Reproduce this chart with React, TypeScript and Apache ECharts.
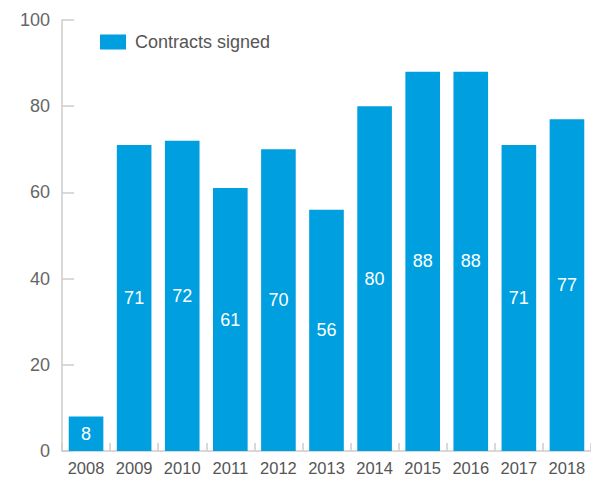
import React, { useEffect, useRef } from "react";
import * as echarts from "echarts";

const years = ["2008", "2009", "2010", "2011", "2012", "2013", "2014", "2015", "2016", "2017", "2018"];
const contractsSigned = [8, 71, 72, 61, 70, 56, 80, 88, 88, 71, 77];
const seriesName = "Contracts signed";

export default function App() {
  const ref = useRef<HTMLDivElement>(null);
  useEffect(() => {
    if (!ref.current) return;
    const chart = echarts.init(ref.current, null, { renderer: "svg" });
    chart.setOption({
      animation: false,
      textStyle: { fontFamily: "Liberation Sans, Arial, sans-serif" },
      legend: {
        left: 95,
        top: 28,
        itemWidth: 26,
        itemHeight: 15,
        itemGap: 10,
        icon: "rect",
        textStyle: { fontSize: 18, color: "#555", padding: [0, 0, 0, 4], fontFamily: "Liberation Sans, Arial, sans-serif" },
        data: [seriesName],
      },
      grid: { left: 62, right: -4, top: 20, bottom: 32, containLabel: false },
      xAxis: {
        type: "category",
        data: years,
        axisLine: { show: true, lineStyle: { color: "#ccc", width: 1.5 } },
        axisTick: { show: true, inside: true, length: 8, lineStyle: { color: "#ccc", width: 1.5 } },
        axisLabel: { color: "#555", fontSize: 16.5, margin: 8, interval: 0, hideOverlap: false },
      },
      yAxis: {
        type: "value",
        min: 0,
        max: 100,
        interval: 20,
        axisLine: { show: true, lineStyle: { color: "#ccc", width: 1.5 } },
        axisTick: { show: true, inside: true, length: 12, lineStyle: { color: "#ccc", width: 1.5 } },
        axisLabel: { color: "#666", fontSize: 18, margin: 12 },
        splitLine: { show: false },
      },
      series: [
        {
          name: seriesName,
          type: "bar",
          data: contractsSigned,
          barWidth: "72%",
          itemStyle: { color: "#009FDF" },
          label: {
            show: true,
            position: "inside",
            color: "#fff",
            fontSize: 18,
          },
        },
      ],
    });
    return () => chart.dispose();
  }, []);
  return <div ref={ref} style={{ width: 591, height: 483, position: "absolute", left: 0, top: 0 }} />;
}
